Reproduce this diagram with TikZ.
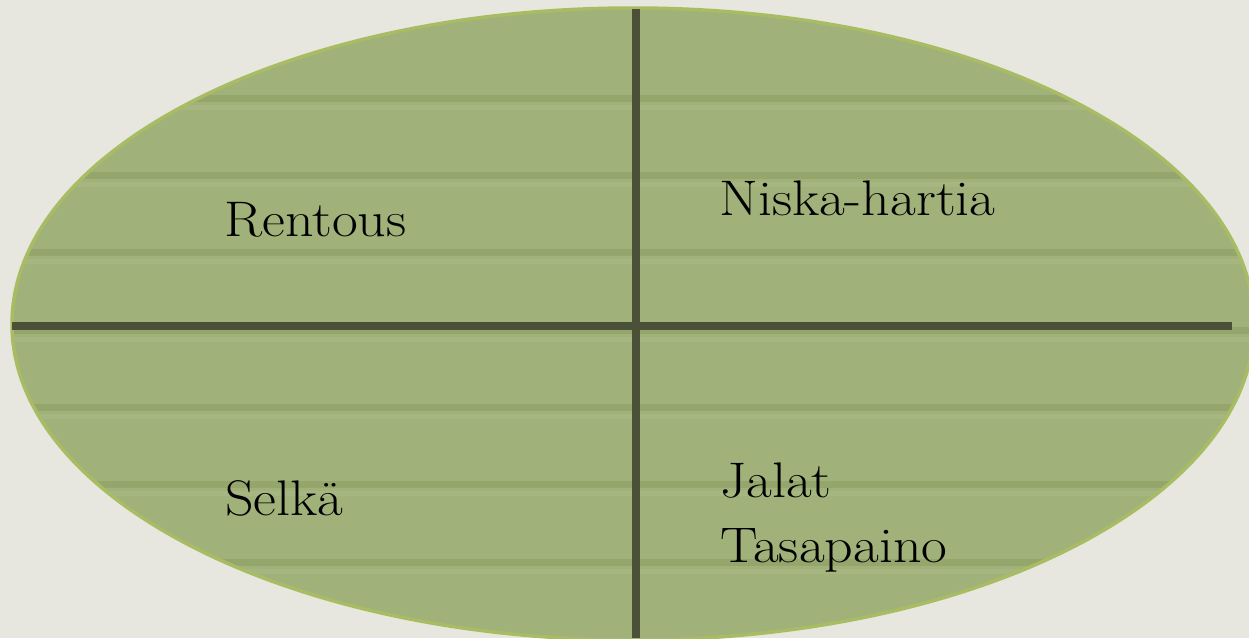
\documentclass[tikz,border=0pt]{standalone}
\definecolor{bgc}{RGB}{231,231,223}
\definecolor{fillc}{RGB}{161,177,122}
\definecolor{stripec}{RGB}{128,148,82}
\definecolor{lightc}{RGB}{178,194,140}
\definecolor{rimc}{RGB}{168,188,100}
\definecolor{linec}{RGB}{75,81,56}
\newcommand{\wide}[1]{\scalebox{1.12}[1]{#1}}
\tikzset{
  lbl/.style={anchor=base west, inner sep=0pt, font=\fontsize{50}{65}\selectfont, text=black},
  divider/.style={draw=linec, line width=8pt},
}
\begin{document}
\begin{tikzpicture}[x=1pt,y=-1pt]
\fill[bgc] (0,0) rectangle (1249,638);
\useasboundingbox (0,0) rectangle (1249,638);
% ellipse with texture
\fill[fillc] (633,324) ellipse [x radius=621, y radius=316];
\begin{scope}
  \clip (633,324) ellipse [x radius=621, y radius=316];
  \foreach \y in {98,175,252,330,407,484,562} {
    \draw[stripec, line width=7pt, opacity=0.35] (0,\y) -- (1249,\y);
    \draw[lightc, line width=5pt, opacity=0.35] (0,\y+9) -- (1249,\y+9);
  }
\end{scope}
\draw[rimc, line width=3.5pt] (633,324) ellipse [x radius=621, y radius=316];
% dividers
\coordinate (hl) at (12,326);
\coordinate (hr) at (1232,326);
\coordinate (vt) at (636,9);
\coordinate (vb) at (636,638);
\draw[divider] (hl) -- (hr);
\draw[divider] (vt) -- (vb);
% labels
\node[lbl] (rentous) at (224,236) {\wide{Rentous}};
\node[lbl] (niska) at (719,215) {\wide{Niska-hartia}};
\node[lbl] (selka) at (225,515) {\wide{Selkä}};
\node[lbl] (jalat) at (720,497) {\wide{Jalat}};
\node[lbl] (tasapaino) at (720,562) {\wide{Tasapaino}};
\end{tikzpicture}
\end{document}
